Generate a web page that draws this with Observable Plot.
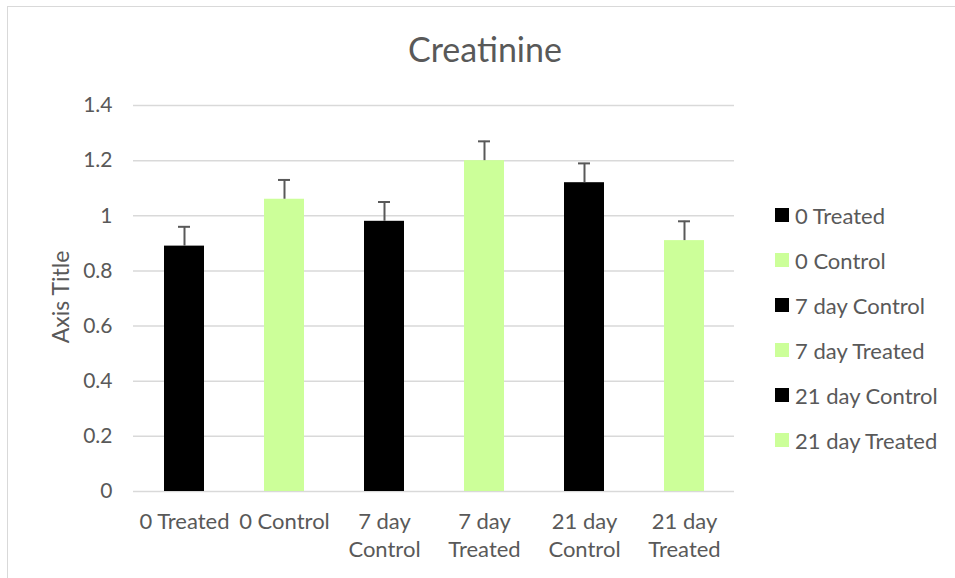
<!DOCTYPE html>
<html>
<head>
<meta charset="utf-8">
<script src="https://cdn.jsdelivr.net/npm/d3@7"></script>
<script src="https://cdn.jsdelivr.net/npm/@observablehq/plot@0.6"></script>
<style>
  html, body { margin: 0; padding: 0; background: #fff; }
  #chart { position: relative; width: 955px; height: 578px; overflow: hidden; font-family: Lato, "Open Sans", sans-serif; color: #595959; }
  #frame { position: absolute; left: 7px; top: 6px; width: 1000px; height: 700px; border: 1.5px solid #d9d9d9; box-sizing: border-box; }
  #title { position: absolute; left: 0; width: 970px; top: 28px; text-align: center; font-size: 34px; color: #595959; }
  #ytitle { position: absolute; left: 60px; top: 297px; transform: translate(-50%, -50%) rotate(-90deg); font-size: 23px; white-space: nowrap; color: #595959; }
  #legend { position: absolute; left: 775px; top: 200px; }
  .li { position: absolute; left: 0; height: 30px; display: flex; align-items: center; white-space: nowrap; font-size: 22px; color: #595959; }
  .sw { width: 14px; height: 14px; margin-right: 6px; }
  svg { position: absolute; left: 0; top: 0; }
</style>
</head>
<body>
<div id="chart">
  <div id="frame"></div>
</div>
<script>
const categories = ["0 Treated", "0 Control", "7 day Control", "7 day Treated", "21 day Control", "21 day Treated"];
const tickLabels = ["0 Treated", "0 Control", "7 day\nControl", "7 day\nTreated", "21 day\nControl", "21 day\nTreated"];
const values = [0.89, 1.06, 0.98, 1.20, 1.12, 0.91];
const errors = [0.07, 0.07, 0.07, 0.07, 0.07, 0.07];
const colors = ["#000000", "#ccff99", "#000000", "#ccff99", "#000000", "#ccff99"];
const yTicks = [0, 0.2, 0.4, 0.6, 0.8, 1, 1.2, 1.4];
const yTickLabels = ["0", "0.2", "0.4", "0.6", "0.8", "1", "1.2", "1.4"];
const chartTitle = "Creatinine";
const yTitle = "Axis Title";

const data = categories.map((c, i) => ({cat: c, value: values[i], err: errors[i], color: colors[i]}));
const labelOf = new Map(categories.map((c, i) => [c, tickLabels[i]]));
const yLabelOf = new Map(yTicks.map((t, i) => [t, yTickLabels[i]]));

const plot = Plot.plot({
  width: 955,
  height: 578,
  marginLeft: 133,
  marginRight: 221,
  marginTop: 105,
  marginBottom: 87,
  style: {fontFamily: "Lato, 'Open Sans', sans-serif", fontSize: "20px", color: "#595959", background: "transparent"},
  x: {domain: categories, paddingInner: 0.6, paddingOuter: 0.3, label: null},
  y: {domain: [0, 1.4], label: null},
  marks: [
    Plot.ruleY(yTicks, {stroke: "#d9d9d9", strokeWidth: 1.5}),
    Plot.barY(data, {x: "cat", y: "value", fill: "color"}),
    Plot.ruleX(data, {x: "cat", y1: "value", y2: d => d.value + d.err, stroke: "#595959", strokeWidth: 2}),
    Plot.tickY(data, {x: "cat", y: d => d.value + d.err, stroke: "#595959", strokeWidth: 2, insetLeft: 14, insetRight: 14}),
    Plot.axisY({ticks: yTicks, tickSize: 0, tickPadding: 21, tickFormat: d => yLabelOf.get(d), fontSize: 21, fill: "#595959", label: null}),
    Plot.axisX({tickSize: 0, tickPadding: 17, tickFormat: d => labelOf.get(d), fontSize: 22, fill: "#595959", lineHeight: 1.28, label: null})
  ]
});
const chart = document.getElementById("chart");
chart.appendChild(plot);

const t = document.createElement("div"); t.id = "title"; t.textContent = chartTitle; chart.appendChild(t);
const yt = document.createElement("div"); yt.id = "ytitle"; yt.textContent = yTitle; chart.appendChild(yt);
const lg = document.createElement("div"); lg.id = "legend";
categories.forEach((c, i) => {
  const row = document.createElement("div"); row.className = "li"; row.style.top = (i * 45) + "px";
  const sw = document.createElement("div"); sw.className = "sw"; sw.style.background = colors[i];
  const tx = document.createElement("span"); tx.textContent = c;
  row.appendChild(sw); row.appendChild(tx); lg.appendChild(row);
});
chart.appendChild(lg);
</script>
</body>
</html>
